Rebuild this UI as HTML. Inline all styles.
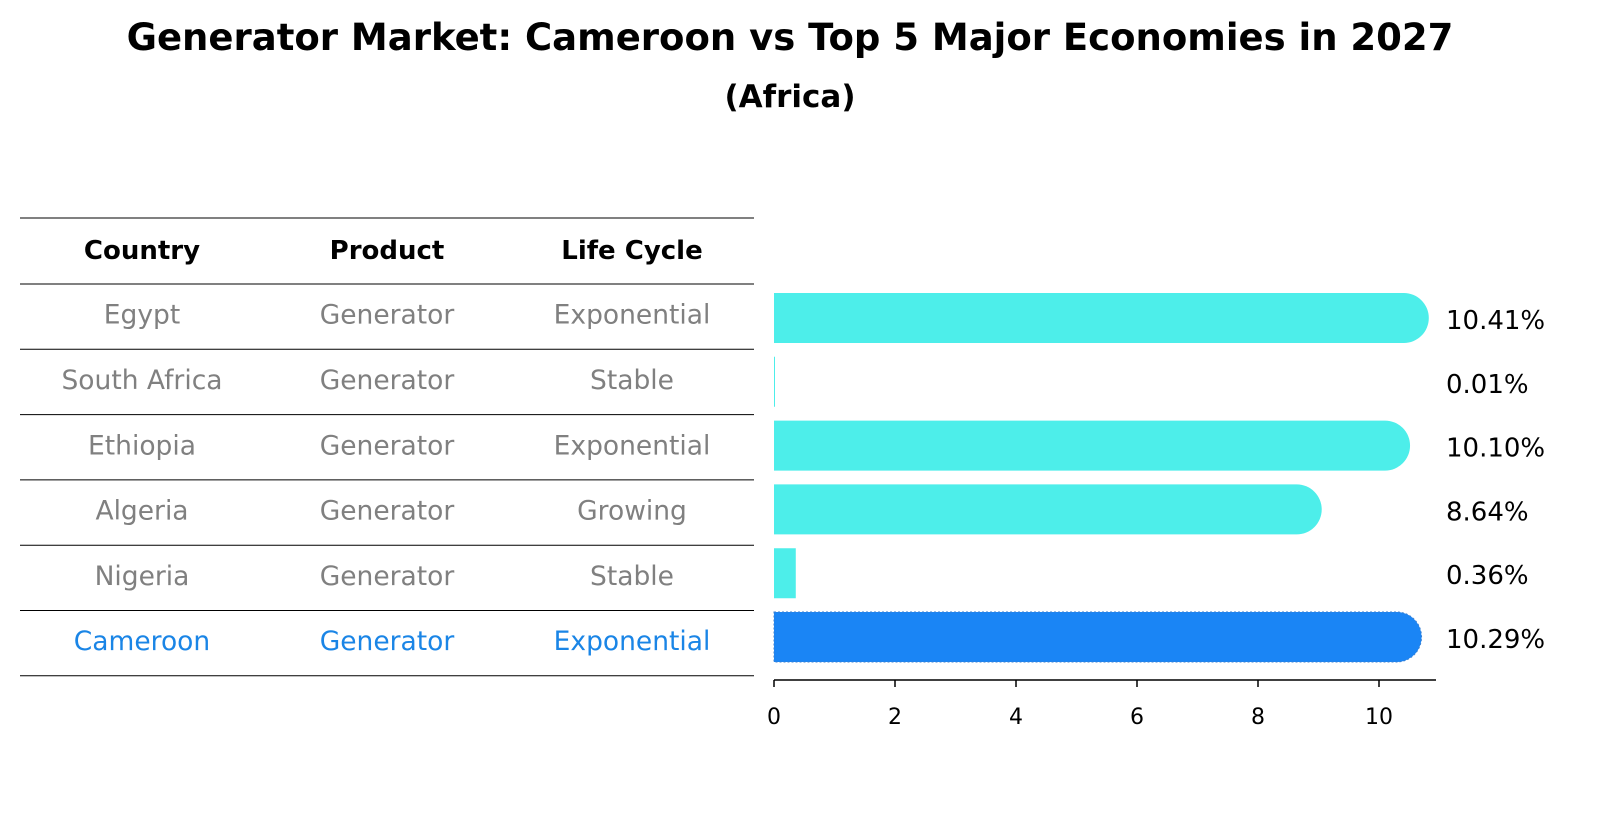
<!DOCTYPE html>
<html><head><meta charset="utf-8"><style>
body{margin:0;background:#fff;font-family:"Liberation Sans","DejaVu Sans",sans-serif;}
svg text{font-family:"DejaVu Sans","Liberation Sans",sans-serif;}
</style></head><body>
<svg width="1604" height="823" viewBox="0 0 1604 823" xmlns="http://www.w3.org/2000/svg">
<text x="790" y="50" text-anchor="middle" font-size="37" font-weight="bold">Generator Market: Cameroon vs Top 5 Major Economies in 2027</text>
<text x="790" y="107" text-anchor="middle" font-size="31" font-weight="bold">(Africa)</text>
<g id="table"></g>
<g id="bars"></g>
</svg>
<script>
const countries=["Egypt","South Africa","Ethiopia","Algeria","Nigeria","Cameroon"];
const products=["Generator","Generator","Generator","Generator","Generator","Generator"];
const lifecycles=["Exponential","Stable","Exponential","Growing","Stable","Exponential"];
const values=[10.41,0.01,10.10,8.64,0.36,10.29];
const valueLabels=["10.41%","0.01%","10.10%","8.64%","0.36%","10.29%"];
const ticks=[0,2,4,6,8,10];
const NS="http://www.w3.org/2000/svg";
function mk(tag,attrs,parent,text){const e=document.createElementNS(NS,tag);for(const k in attrs)e.setAttribute(k,attrs[k]);if(text!==undefined)e.textContent=text;parent.appendChild(e);return e;}
const tbl=document.getElementById('table');
const bars=document.getElementById('bars');
const cols=[142,387,632];
const lineY0=218,headH=66,rowH=65.3;
const x0=774,xs=60.5;
const X=v=>x0+v*xs;
const rowY=i=>lineY0+headH+rowH*i+rowH/2;
const barY=i=>318+63.8*i;
for(let i=0;i<=countries.length+1;i++){
 const y=i===0?lineY0:lineY0+headH+rowH*(i-1);
 const l=mk('line',{x1:20,x2:754,y1:y,y2:y,stroke:'#000','stroke-width':1},tbl);
 
 
}
["Country","Product","Life Cycle"].forEach((h,j)=>{
 const t=mk('text',{x:cols[j],y:lineY0+41,'text-anchor':'middle','font-size':26,'font-weight':'bold'},tbl,h);
 
 
});
countries.forEach((c,i)=>{
 const hl=i===countries.length-1;
 const col=hl?'#1a85e6':'#808080';
 [c,products[i],lifecycles[i]].forEach((v,j)=>{
  const t=mk('text',{x:cols[j],y:rowY(i)+7,'text-anchor':'middle','font-size':26.5,fill:col},tbl,v);
  
  
 });
 const h=50,yt=barY(i)-h/2;
 const w=X(values[i])-x0;
 const r=h/2;
 let d;
 if(w>r){d=`M${x0},${yt} H${x0+w} A${r},${r} 0 0 1 ${x0+w},${yt+h} H${x0} Z`;}
 else{d=`M${x0},${yt} H${x0+Math.max(w,1)} V${yt+h} H${x0} Z`;}
 const p=mk('path',{d:d,fill:hl?'#1a85f5':'#4deeea'},bars);
 if(hl){p.setAttribute('stroke','#3a7fd0');p.setAttribute('stroke-dasharray','2,2');}
 
 
 const t=mk('text',{x:1446,y:barY(i)+11,'font-size':26},bars,valueLabels[i]);
 
 
});
const ax=mk('line',{x1:x0,x2:1436,y1:680,y2:680,stroke:'#000','stroke-width':1.5},bars);


ticks.forEach(v=>{
 const l=mk('line',{x1:X(v),x2:X(v),y1:680,y2:687,stroke:'#000','stroke-width':1.5},bars);
 
 
 const t=mk('text',{x:X(v),y:724,'text-anchor':'middle','font-size':22},bars,String(v));
 
 
});
</script>
</body></html>
